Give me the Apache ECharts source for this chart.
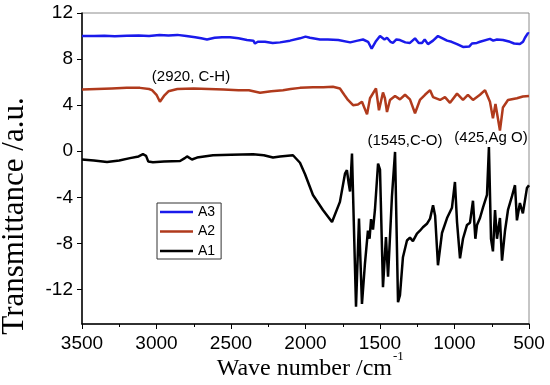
<!DOCTYPE html>
<html>
<head>
<meta charset="utf-8">
<script src="https://cdn.jsdelivr.net/npm/echarts@6/dist/echarts.min.js"></script>
<style>html,body{margin:0;padding:0;background:#fff}#c{width:550px;height:385px}</style>
</head>
<body>
<div id="c"></div>
<script>
var seriesNames = ['A3', 'A2', 'A1'];
var yTicks = [-12, -8, -4, 0, 4, 8, 12];
var xTitle = 'Wave number /cm';
var yTitle = 'Transmittance /a.u.';
var notes = ['(2920, C-H)', '(1545,C-O)', '(425,Ag O)'];

var a3 = [[3500,10.0],[3420,10.0],[3350,10.02],[3280,9.98],[3200,10.03],[3120,10.05],[3050,10.0],[2980,10.08],[2920,10.05],[2860,10.1],[2800,10.0],[2740,9.9],[2700,9.8],[2661,9.7],[2610,9.85],[2560,9.9],[2507,9.9],[2450,9.8],[2393,9.65],[2350,9.6],[2339,9.35],[2320,9.5],[2272,9.5],[2220,9.4],[2171,9.45],[2104,9.6],[2037,9.8],[2000,9.95],[1970,9.85],[1903,9.7],[1850,9.7],[1780,9.65],[1700,9.45],[1650,9.6],[1614,9.7],[1580,9.5],[1556,8.9],[1530,9.5],[1500,10.0],[1470,9.7],[1453,9.85],[1430,9.5],[1413,9.4],[1390,9.7],[1366,9.65],[1330,9.45],[1299,9.4],[1265,9.8],[1240,9.4],[1218,9.4],[1200,9.7],[1178,9.3],[1144,9.6],[1111,10.0],[1080,9.8],[1050,9.6],[1020,9.5],[983,9.3],[943,9.05],[900,9.1],[883,9.35],[850,9.4],[829,9.5],[762,9.75],[740,9.6],[715,9.7],[675,9.65],[628,9.5],[600,9.35],[561,9.3],[540,9.5],[527,9.85],[507,10.25],[500,10.2]];

var a2 = [[3500,5.35],[3400,5.4],[3300,5.45],[3200,5.5],[3111,5.5],[3050,5.4],[3030,5.3],[3000,4.9],[2977,4.3],[2950,4.8],[2920,5.2],[2860,5.4],[2750,5.45],[2650,5.4],[2550,5.35],[2450,5.3],[2380,5.3],[2305,5.07],[2230,5.2],[2151,5.3],[2100,5.4],[2037,5.5],[1950,5.55],[1880,5.55],[1816,5.6],[1769,5.45],[1740,4.9],[1715,4.45],[1681,4.0],[1648,4.05],[1621,4.3],[1587,3.2],[1567,4.6],[1527,5.45],[1507,3.55],[1480,5.1],[1467,4.6],[1453,3.4],[1433,4.45],[1399,4.8],[1366,4.5],[1332,4.9],[1299,4.5],[1265,3.3],[1232,4.45],[1198,4.9],[1164,5.3],[1144,4.7],[1097,4.45],[1064,4.7],[1030,4.2],[983,5.0],[943,4.45],[910,4.9],[876,4.45],[829,4.9],[795,5.3],[762,4.3],[742,2.85],[725,4.1],[715,4.1],[695,1.8],[675,3.8],[641,4.45],[581,4.6],[541,4.75],[500,4.8]];

var a1 = [[3500,-0.72],[3420,-0.8],[3332,-0.93],[3250,-0.8],[3178,-0.6],[3120,-0.45],[3091,-0.26],[3070,-0.4],[3055,-0.9],[3044,-1.07],[3024,-0.95],[2950,-0.9],[2842,-0.85],[2810,-0.6],[2795,-0.45],[2762,-0.72],[2728,-0.55],[2621,-0.35],[2500,-0.3],[2352,-0.26],[2280,-0.35],[2218,-0.55],[2171,-0.45],[2084,-0.35],[2071,-0.45],[2037,-1.0],[2003,-2.0],[1950,-3.8],[1883,-5.1],[1822,-6.15],[1769,-4.4],[1735,-1.95],[1722,-1.65],[1710,-2.8],[1701,-3.5],[1688,-0.2],[1661,-13.5],[1641,-5.85],[1621,-13.25],[1601,-9.75],[1581,-6.9],[1570,-7.6],[1560,-5.9],[1547,-6.8],[1534,-5.1],[1513,-1.07],[1500,-1.6],[1480,-11.8],[1460,-7.45],[1446,-10.9],[1420,-3.97],[1399,-0.06],[1379,-13.1],[1366,-12.5],[1346,-9.2],[1319,-7.75],[1299,-7.5],[1279,-7.8],[1252,-7.15],[1232,-6.9],[1212,-6.6],[1185,-6.3],[1164,-5.85],[1144,-4.7],[1130,-5.6],[1111,-9.9],[1084,-7.1],[1050,-5.8],[1017,-4.9],[997,-2.67],[983,-6.15],[963,-9.3],[943,-7.6],[916,-6.4],[896,-6.2],[876,-4.3],[860,-7.6],[849,-6.4],[829,-5.8],[809,-4.9],[782,-3.8],[769,0.37],[755,-7.6],[742,-8.7],[728,-5.1],[715,-7.6],[695,-5.8],[681,-9.5],[661,-6.9],[641,-5.1],[614,-3.9],[594,-2.95],[581,-6.0],[561,-4.5],[541,-5.4],[514,-3.2],[500,-2.95]];

var colors = ['#1a1aeb', '#b03a1c', '#000000'];
var chart = echarts.init(document.getElementById('c'), null, {renderer: 'canvas'});
var sans = '"Liberation Sans", Arial, sans-serif';
var serif = '"Liberation Serif", "Times New Roman", serif';

function line(name, data, color) {
  return {
    name: name, type: 'line', data: data, symbol: 'none', showSymbol: false,
    lineStyle: {color: color, width: 2.5}, itemStyle: {color: color}, animation: false
  };
}

chart.setOption({
  animation: false,
  grid: {left: 82, right: 21, top: 13, bottom: 61, show: true, borderColor: '#8c8c8c', borderWidth: 1, backgroundColor: 'transparent'},
  xAxis: {
    type: 'value', min: 500, max: 3500, interval: 500, inverse: true,
    axisLine: {onZero: false, lineStyle: {color: '#000', width: 1.5}},
    axisTick: {show: true, inside: false, length: 5, lineStyle: {color: '#000', width: 1}},
    minorTick: {show: true, splitNumber: 2, length: 3, lineStyle: {color: '#000', width: 1}},
    splitLine: {show: false},
    axisLabel: {color: '#000', fontSize: 19, fontFamily: sans, margin: 10, formatter: function (v) { return String(v); }}
  },
  yAxis: {
    type: 'value', min: -15, max: 12,
    axisLine: {onZero: false, lineStyle: {color: '#000', width: 1.5}},
    axisTick: {show: true, length: 5, customValues: yTicks, lineStyle: {color: '#000', width: 1}},
    splitLine: {show: false},
    axisLabel: {color: '#000', fontSize: 19, fontFamily: sans, margin: 9, customValues: yTicks, formatter: function (v) { return String(v); }}
  },
  legend: {
    data: seriesNames.map(function (n) { return {name: n, icon: 'rect'}; }),
    orient: 'vertical', left: 157, top: 203,
    itemWidth: 33, itemHeight: 2.5, itemGap: 5.5, padding: [2, 6, 1, 3],
    borderColor: '#333', borderWidth: 1, backgroundColor: '#fff',
    textStyle: {color: '#000', fontSize: 14, lineHeight: 14, fontFamily: sans}
  },
  series: [line('A3', a3, colors[0]), line('A2', a2, colors[1]), line('A1', a1, colors[2])],
  graphic: [
    {type: 'text', x: 15, y: 216, rotation: Math.PI / 2, style: {text: yTitle, font: '31px ' + serif, fill: '#000', align: 'center', verticalAlign: 'middle'}},
    {type: 'text', x: 392, y: 369, style: {text: xTitle, font: '24px ' + serif, fill: '#000', align: 'right', verticalAlign: 'middle'}},
    {type: 'text', x: 393, y: 357, style: {text: '-1', font: '13px ' + serif, fill: '#000', align: 'left', verticalAlign: 'middle'}},
    {type: 'text', x: 191, y: 77, style: {text: notes[0], font: '15px ' + sans, fill: '#000', align: 'center', verticalAlign: 'middle'}},
    {type: 'text', x: 405, y: 141, style: {text: notes[1], font: '15px ' + sans, fill: '#000', align: 'center', verticalAlign: 'middle'}},
    {type: 'text', x: 491, y: 138, style: {text: notes[2], font: '15px ' + sans, fill: '#000', align: 'center', verticalAlign: 'middle'}}
  ]
});
</script>
</body>
</html>
